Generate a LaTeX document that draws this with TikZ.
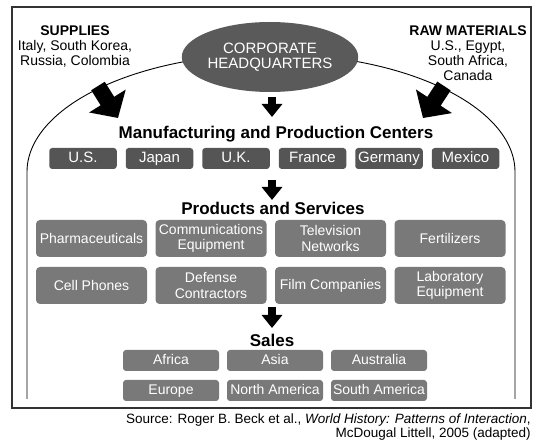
\documentclass[tikz,border=0pt]{standalone}
\usepackage{fontspec}
\setmainfont{Liberation Sans}
\usepackage{xcolor}
\usepackage{tikz}
\usetikzlibrary{
    arrows.meta,
    shapes.geometric
}
\definecolor{hqgray}{HTML}{5A5A5A}
\definecolor{mfggray}{HTML}{555555}
\definecolor{prodgray}{HTML}{797979}

\begin{document}
\begin{tikzpicture}[x=1pt,y=-1pt,semithick]
    \tikzstyle{title}=[font=\fontsize{17}{19}\selectfont\bfseries, inner sep=0]
    \tikzstyle{source}=[font=\fontsize{14}{15}\selectfont, align=center, inner sep=0, anchor=north]
    \tikzstyle{hq}=[shape=ellipse, fill=hqgray, text=white, minimum width=140pt, minimum height=70pt, inner sep=0, align=center, font=\fontsize{15}{15}\selectfont]
    \tikzstyle{mfg box}=[fill=mfggray, text=white, rounded corners=3pt, minimum width=67.5pt, minimum height=21pt, inner sep=0, text height=10.9pt, text depth=3.2pt, font=\fontsize{15}{16}\selectfont]
    \tikzstyle{prod box}=[fill=prodgray, text=white, rounded corners=4pt, minimum width=111pt, minimum height=37pt, inner sep=0, align=center, font=\fontsize{14}{15.5}\selectfont]
    \tikzstyle{sale box}=[fill=prodgray, text=white, rounded corners=3pt, minimum width=96pt, minimum height=21pt, inner sep=0, text height=10.2pt, text depth=3pt, font=\fontsize{14}{15}\selectfont]
    \tikzstyle{fat arrow}=[line width=8pt, -{Triangle[length=13pt,width=20pt]}]
    \tikzstyle{big arrow}=[line width=16pt, -{Triangle[length=20pt,width=42pt]}]
    \useasboundingbox (0,0) rectangle (547,446);
    \draw[line width=1.1pt, black!80] (12,7) rectangle (531,408);
    \draw[line width=0.9pt] (27,399) -- (27,172) arc[start angle=180, end angle=360, x radius=244, y radius=118] -- (515,399);
    \node[hq] (hq) at (270,57) {CORPORATE\\HEADQUARTERS};
    \node[source] (sup) at (75,25) {\textbf{SUPPLIES}\\Italy, South Korea,\\Russia, Colombia};
    \node[source] (raw) at (468,25) {\textbf{RAW MATERIALS}\\U.S., Egypt,\\South Africa,\\Canada};
    \node[title] (mfg) at (276,134) {Manufacturing and Production Centers};
    \node[mfg box] (us) at (83,158.5) {U.S.};
    \node[mfg box] (jp) at (159.5,158.5) {Japan};
    \node[mfg box] (uk) at (236,158.5) {U.K.};
    \node[mfg box] (fr) at (312.5,158.5) {France};
    \node[mfg box] (de) at (389,158.5) {Germany};
    \node[mfg box] (mx) at (465.5,158.5) {Mexico};
    \node[title] (prod) at (273,208) {Products and Services};
    \node[prod box] (ph) at (91.5,238.5) {Pharmaceuticals};
    \node[prod box] (ce) at (211,238.5) {Communications\\Equipment};
    \node[prod box] (tv) at (330.5,238.5) {Television\\Networks};
    \node[prod box] (fe) at (450,238.5) {Fertilizers};
    \node[prod box] (cp) at (91.5,285.5) {Cell Phones};
    \node[prod box] (dc) at (211,285.5) {Defense\\Contractors};
    \node[prod box] (fc) at (330.5,285.5) {Film Companies};
    \node[prod box] (le) at (450,285.5) {Laboratory\\Equipment};
    \node[title] (sales) at (272,340) {Sales};
    \node[sale box] (af) at (171,360.5) {Africa};
    \node[sale box] (as) at (275,360.5) {Asia};
    \node[sale box] (au) at (379,360.5) {Australia};
    \node[sale box] (eu) at (171,390.5) {Europe};
    \node[sale box] (na) at (275,390.5) {North America};
    \node[sale box] (sa) at (379,390.5) {South America};
    \node[anchor=north east, align=right, inner sep=0, font=\fontsize{13.5}{14}\selectfont] (src) at (531,413) {Source: Roger B. Beck et al., \textit{World History: Patterns of Interaction},\\McDougal Littell, 2005 (adapted)};
    \coordinate (hq out) at (272,97);
    \coordinate (mfg in) at (272,117);
    \coordinate (mfg out) at (272,180);
    \coordinate (prod in) at (272,200);
    \coordinate (prod out) at (272,307);
    \coordinate (sales in) at (272,328);
    \coordinate (sup out) at (98,86);
    \coordinate (sup in) at (118,118);
    \coordinate (raw out) at (444,86);
    \coordinate (raw in) at (423,118);
    \draw[fat arrow] (hq out) -- (mfg in);
    \draw[fat arrow] (mfg out) -- (prod in);
    \draw[fat arrow] (prod out) -- (sales in);
    \draw[big arrow] (sup out) -- (sup in);
    \draw[big arrow] (raw out) -- (raw in);
\end{tikzpicture}
\end{document}
